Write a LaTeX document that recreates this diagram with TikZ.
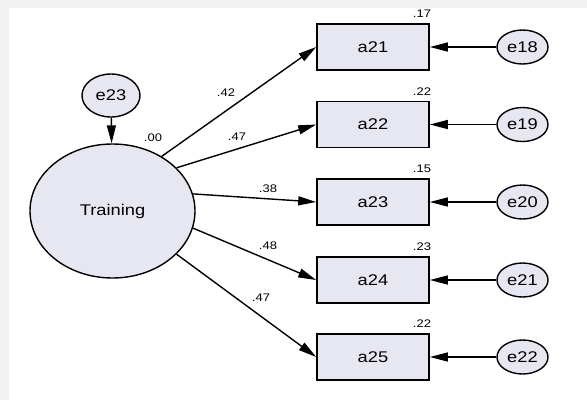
\documentclass[tikz,border=0pt]{standalone}
\usepackage{fontspec}
\setmainfont{Liberation Sans}[FakeStretch=1.18]
\usetikzlibrary{arrows.meta,shapes.geometric}
\definecolor{shapefill}{RGB}{231,231,241}
\definecolor{edgegray}{RGB}{242,242,242}
\begin{document}
\begin{tikzpicture}[x=1pt,y=-1pt,
  obs/.style={draw,line width=1.6pt,fill=shapefill,minimum width=112pt,minimum height=46pt,inner sep=0pt,font=\fontsize{15.5}{15.5}\selectfont},
  err/.style={draw,line width=1.4pt,ellipse,fill=shapefill,minimum width=51pt,minimum height=34pt,inner sep=0pt,font=\fontsize{15.5}{15.5}\selectfont},
  lat/.style={draw,line width=1.4pt,ellipse,fill=shapefill,minimum width=165pt,minimum height=134pt,inner sep=0pt,font=\fontsize{15.5}{15.5}\selectfont},
  path/.style={line width=1.4pt,-{Triangle[length=18pt,width=9pt]}},
  lbl/.style={font=\fontsize{11}{11}\selectfont,inner sep=0pt}]
\useasboundingbox (0,0) rectangle (587,400);
\fill[white] (0,0) rectangle (587,400);
\fill[edgegray] (0,0) rectangle (587,8);
\fill[edgegray] (0,0) rectangle (9,400);

\node[lat] (T) at (112.5,211) {Training};
\node[err,minimum width=58pt,minimum height=43pt] (e23) at (111,95.5) {e23};
\draw[path] (e23) -- (T);
\node[lbl] at (153,138) {.00};

\foreach \i/\y/\e/\ang/\r in {21/47/18/48/.17,22/124.5/19/34/.22,23/202/20/12/.15,24/280/21/-12/.23,25/357/22/-34/.22}{
  \node[obs] (a\i) at (373,\y) {a\i};
  \node[err] (e\e) at (522.5,\y) {e\e};
  \draw[path] (e\e) -- (a\i.east);
  \draw[path] (T.\ang) -- (a\i.west);
  \node[lbl] at (422,\y-33) {\r};
}
\node[lbl] at (226,93) {.42};
\node[lbl] at (237,137) {.47};
\node[lbl] at (268,189) {.38};
\node[lbl] at (268,246) {.48};
\node[lbl] at (261,298) {.47};
\end{tikzpicture}
\end{document}
